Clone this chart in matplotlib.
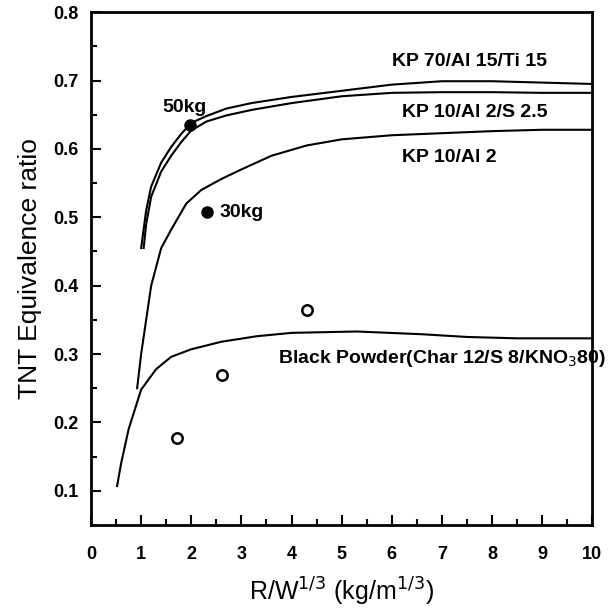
import matplotlib.pyplot as plt
from matplotlib.ticker import MultipleLocator

# curves
kp70_x = [1.0, 1.1, 1.2, 1.4, 1.6, 1.8, 2.0, 2.3, 2.7, 3.2, 4.0, 5.0, 6.0, 7.0, 8.0, 9.0, 10.0]
kp70_y = [0.455, 0.51, 0.545, 0.58, 0.603, 0.622, 0.638, 0.648, 0.659, 0.667, 0.676, 0.685, 0.694, 0.699, 0.699, 0.697, 0.695]

kp10s_x = [1.05, 1.1, 1.2, 1.4, 1.6, 1.8, 2.0, 2.3, 2.7, 3.2, 4.0, 5.0, 6.0, 7.0, 8.0, 9.0, 10.0]
kp10s_y = [0.455, 0.49, 0.53, 0.567, 0.59, 0.61, 0.627, 0.64, 0.649, 0.657, 0.667, 0.677, 0.682, 0.683, 0.683, 0.682, 0.682]

kp10_x = [0.92, 1.0, 1.1, 1.2, 1.4, 1.6, 1.9, 2.2, 2.6, 3.0, 3.6, 4.3, 5.0, 6.0, 7.0, 8.0, 9.0, 10.0]
kp10_y = [0.25, 0.3, 0.35, 0.40, 0.455, 0.482, 0.52, 0.54, 0.556, 0.57, 0.59, 0.605, 0.614, 0.62, 0.623, 0.626, 0.628, 0.628]

bp_x = [0.52, 0.6, 0.75, 1.0, 1.3, 1.6, 2.0, 2.6, 3.3, 4.0, 5.3, 6.6, 7.5, 8.5, 10.0]
bp_y = [0.107, 0.14, 0.19, 0.248, 0.278, 0.296, 0.307, 0.318, 0.326, 0.331, 0.333, 0.329, 0.325, 0.323, 0.323]

# test points
open_x = [1.72, 2.62, 4.3]
open_y = [0.177, 0.27, 0.364]
filled_x = [1.97, 2.31]
filled_y = [0.635, 0.508]
filled_labels = ["50kg", "30kg"]

plt.rcParams['font.family'] = ['Liberation Sans', 'DejaVu Sans']

fig = plt.figure(figsize=(6.15, 6.08), dpi=100)
ax = fig.add_axes([0.148, 0.1365, 0.815, 0.8435])

for xs, ys in [(kp70_x, kp70_y), (kp10s_x, kp10s_y), (kp10_x, kp10_y), (bp_x, bp_y)]:
    ax.plot(xs, ys, color="black", linewidth=1.5)

ax.plot(open_x, open_y, linestyle="none", marker="o", markersize=7.5,
        markerfacecolor="white", markeredgecolor="black", markeredgewidth=1.8)
ax.plot(filled_x, filled_y, linestyle="none", marker="o", markersize=8,
        color="black")

bold = dict(fontsize=14, fontweight="bold", va="center")
ax.text(1.43, 0.661, filled_labels[0], **bold)
ax.text(2.57, 0.507, filled_labels[1], **bold)
ax.text(6.0, 0.728, "KP 70/Al 15/Ti 15", **bold)
ax.text(6.2, 0.653, "KP 10/Al 2/S 2.5", **bold)
ax.text(6.2, 0.587, "KP 10/Al 2", **bold)
ax.text(3.73, 0.293, "Black Powder(Char 12/S 8/KNO$_3$80)", clip_on=False, **bold)

ax.set_xlim(0, 10)
ax.set_ylim(0.05, 0.8)
ax.xaxis.set_major_locator(MultipleLocator(1))
ax.xaxis.set_minor_locator(MultipleLocator(0.5))
ax.yaxis.set_minor_locator(MultipleLocator(0.05))
ax.set_yticks([0.1, 0.2, 0.3, 0.4, 0.5, 0.6, 0.7, 0.8])
ax.tick_params(which="both", direction="in", top=False, right=False, width=1.5)
ax.tick_params(which="major", length=7, labelsize=13)
ax.tick_params(axis="x", which="major", pad=15)
ax.tick_params(axis="y", which="major", pad=9)
ax.tick_params(which="minor", length=4)
for lab in ax.get_xticklabels() + ax.get_yticklabels():
    lab.set_fontweight("bold")
for sp in ax.spines.values():
    sp.set_linewidth(2)

ax.set_xlabel("R/W$^{1/3}$ (kg/m$^{1/3}$)", fontsize=18, labelpad=9)
ax.set_ylabel("TNT Equivalence ratio", fontsize=19, labelpad=8)

fig.savefig("out.png", dpi=100)
